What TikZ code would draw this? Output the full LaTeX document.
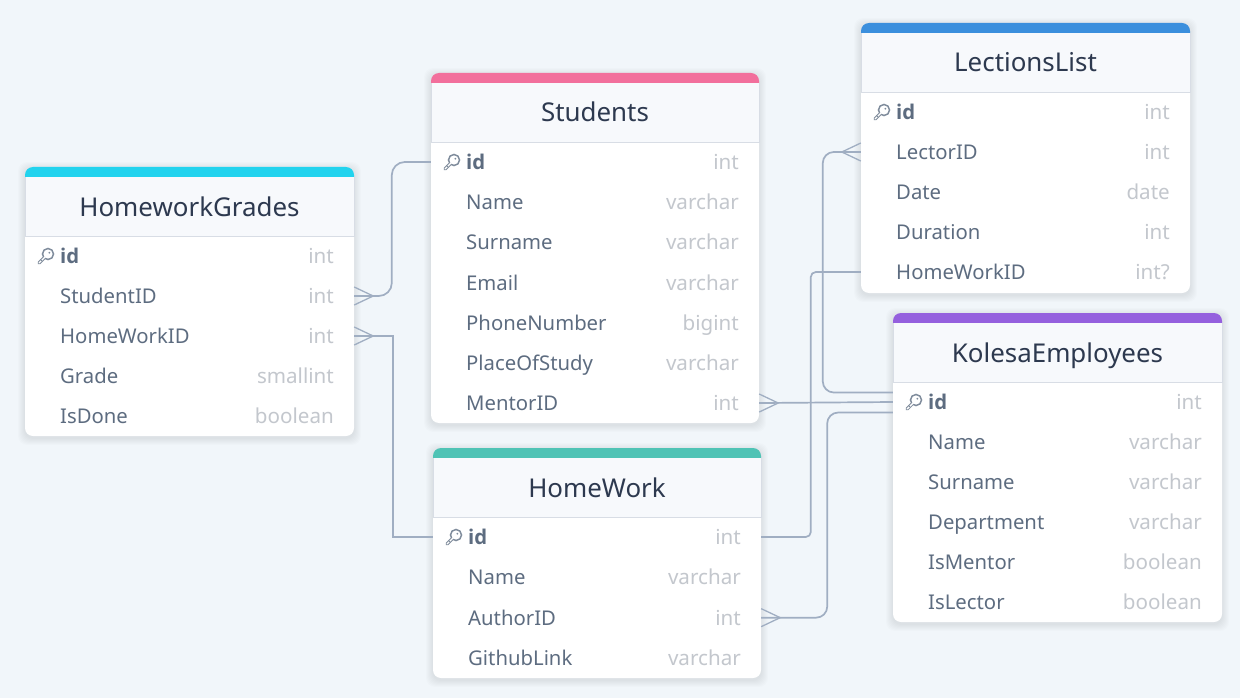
\documentclass[tikz,border=0pt]{standalone}
\usepackage{fontspec}
\setmainfont{Noto Sans}[BoldFont={Open Sans Bold}]
\usetikzlibrary{calc}
\definecolor{pagebg}{HTML}{F1F6FA}
\definecolor{headbg}{HTML}{F7F9FC}
\definecolor{headline}{HTML}{D8DDE5}
\definecolor{titletxt}{HTML}{2D394F}
\definecolor{rowtxt}{HTML}{5D6C80}
\definecolor{typetxt}{HTML}{C3C7CD}
\definecolor{link}{HTML}{A0AEC2}
\definecolor{keycol}{HTML}{7F8C9C}
\definecolor{cCyan}{HTML}{22D3EE}
\definecolor{cPink}{HTML}{F26F9C}
\definecolor{cTeal}{HTML}{4FC3B5}
\definecolor{cBlue}{HTML}{3B8FDD}
\definecolor{cPurple}{HTML}{9560DE}
\tikzset{
  x=1pt,y=-1pt,
  titlelabel/.style={anchor=base,inner sep=0pt,text=titletxt,font=\fontsize{25.9}{26}\selectfont},
  namelabel/.style={anchor=base west,inner sep=0pt,text=rowtxt,font=\fontsize{20.3}{21}\selectfont},
  idlabel/.style={anchor=base west,inner sep=0pt,text=rowtxt,font=\fontsize{20.3}{21}\selectfont\bfseries},
  typelabel/.style={anchor=base east,inner sep=0pt,text=typetxt,font=\fontsize{20.6}{21}\selectfont},
  rowbox/.style={inner sep=0pt,minimum height=40pt,draw=none,fill=none},
  relation/.style={draw=link,line width=1.7pt},
}
% #1 prefix, #2 left, #3 top, #4 width, #5 colour, #6 title, #7 row gap, #8 rows, #9 bottom
\newcommand{\dbtable}[9]{%
  \foreach \s in {1,...,7}{\fill[black,opacity=.012,rounded corners=9pt]
     ({#2-\s},{#3+2-\s}) rectangle ({#2+#4+\s},{#9+2+\s});}
  \fill[#5,rounded corners=8pt] (#2,#3) rectangle ({#2+#4},{#3+22});
  \fill[white,rounded corners=8pt] (#2,{#3+40}) rectangle ({#2+#4},#9);
  \fill[headbg] (#2,{#3+10}) rectangle ({#2+#4},{#3+69});
  \draw[headline,line width=1pt] (#2,{#3+10}) -- (#2,{#3+69.5}) -- ({#2+#4},{#3+69.5}) -- ({#2+#4},{#3+10});
  \node[titlelabel] (#1title) at ({#2+#4/2},{#3+49}) {#6};
  \node[rowbox,minimum width=#4 pt] (#11) at ({#2+#4/2},{#3+89}) {};
  \node[idlabel] (#1name1) at ({#2+35},{#3+96.5}) {id};
  \node[typelabel] (#1type1) at ({#2+#4-20},{#3+96.5}) {int};
  \begin{scope}[shift={({#2+20},{#3+90})}]
    \draw[keycol,line width=3.2pt,line cap=round] (-6,6) -- (1,-1);
    \draw[keycol,line width=3.2pt] (3,-3) circle[radius=4.6];
    \draw[white,line width=1.4pt,line cap=round] (-6,6) -- (1,-1);
    \fill[white] (3,-3) circle[radius=4.6];
    \fill[keycol] (4.3,-4.3) circle[radius=1];
    \draw[keycol,line width=1pt] (-4.5,2.5) -- (-3,4);
  \end{scope}
  \foreach \n/\t [count=\i from 1] in {#8}{
    \pgfmathsetmacro{\cy}{#3+89+#7*\i}
    \pgfmathtruncatemacro{\r}{\i+1}
    \node[rowbox,minimum width=#4 pt] (#1\r) at ({#2+#4/2},\cy) {};
    \node[namelabel] (#1name\r) at ({#2+35},{\cy+7.5}) {\n};
    \node[typelabel] (#1type\r) at ({#2+#4-20},{\cy+7.5}) {\t};
  }
}
\newcommand{\crowfoot}[2]{% anchor, direction
  \draw[relation,line width=1.3pt] ([yshift=9pt]#1) -- ++(#2,9) -- ++(-#2,9);}
\begin{document}
\begin{tikzpicture}
\useasboundingbox (0,0) rectangle (1240,698);
\fill[pagebg] (0,0) rectangle (1240,698);
\dbtable{hg}{25}{167}{329}{cCyan}{HomeworkGrades}{40}{StudentID/int,HomeWorkID/int,Grade/smallint,IsDone/boolean}{436}
\dbtable{st}{431}{73}{328}{cPink}{Students}{40.17}{Name/varchar,Surname/varchar,Email/varchar,PhoneNumber/bigint,PlaceOfStudy/varchar,MentorID/int}{423}
\dbtable{hw}{433}{448}{328}{cTeal}{HomeWork}{40.33}{Name/varchar,AuthorID/int,GithubLink/varchar}{678}
\dbtable{ll}{861}{23}{329}{cBlue}{LectionsList}{40}{LectorID/int,Date/date,Duration/int,HomeWorkID/int?}{293}
\dbtable{ke}{893}{313}{329}{cPurple}{KolesaEmployees}{40}{Name/varchar,Surname/varchar,Department/varchar,IsMentor/boolean,IsLector/boolean}{622}
% connectors
\draw[relation,rounded corners=13pt] (st1.west) -- ++(-39,0) |- (hg2.east);
\draw[relation] (hg3.east) -- ++(39,0) |- (hw1.west);
\draw[relation] (st7.east) -- (ke1.west);
\draw[relation,rounded corners=11pt] (ll2.west) -- ++(-38,0) |- ([yshift=9.5pt]ke1.west);
\draw[relation,rounded corners=5pt] (ll5.west) -- ++(-50,0) |- (hw1.east);
\draw[relation,rounded corners=11pt] (hw3.east) -- ++(66,0) |- ([yshift=-10.5pt]ke1.west);
\crowfoot{hg2.east}{19}
\crowfoot{hg3.east}{19}
\crowfoot{st7.east}{19}
\crowfoot{hw3.east}{19}
\crowfoot{ll2.west}{-19}
\end{tikzpicture}
\end{document}
